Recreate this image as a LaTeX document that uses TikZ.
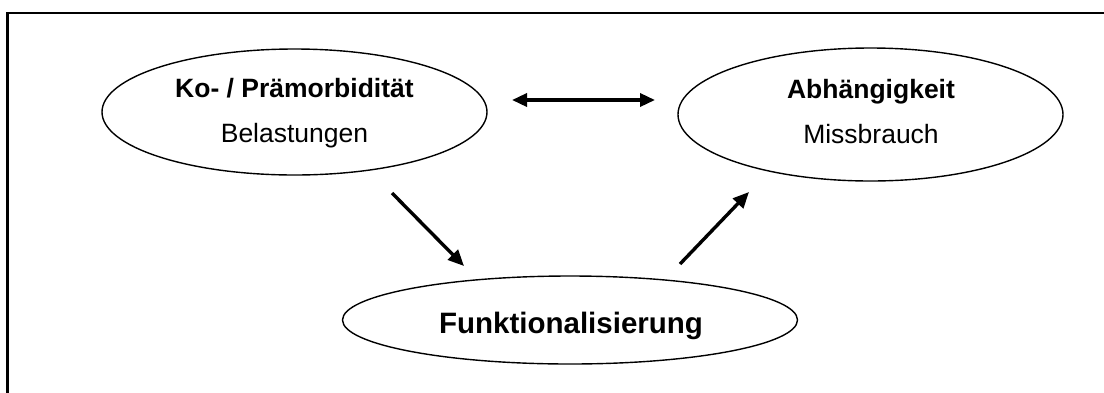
\documentclass[tikz,border=0pt]{standalone}
\usepackage{fontspec}
\setmainfont{Liberation Sans}
\usetikzlibrary{shapes.geometric,arrows.meta}
\begin{document}
\begin{tikzpicture}[x=1pt,y=-1pt,
  oval/.style={draw,ellipse,line width=1.4pt,inner sep=0pt},
  lbl/.style={anchor=base,inner sep=0pt,font=\fontsize{26.5}{30}\selectfont},
  blbl/.style={lbl,font=\fontsize{26.5}{30}\selectfont\bfseries},
  biglbl/.style={anchor=base,inner sep=0pt,font=\fontsize{29.5}{34}\selectfont\bfseries},
  arr/.style={line width=3.4pt,-{Triangle[length=16pt,width=14pt]}},
  darr/.style={line width=3.4pt,{Triangle[length=15pt,width=13pt]}-{Triangle[length=15pt,width=13pt]}}]
\useasboundingbox (0,0) rectangle (1104,392);
\draw[line width=2.4pt] (7.5,400) -- (7.5,13) -- (1110,13);
\node[oval,minimum width=385pt,minimum height=126pt] (ko) at (294.5,112) {};
\node[oval,minimum width=385pt,minimum height=133pt] (ab) at (870.5,114.5) {};
\node[oval,minimum width=455pt,minimum height=88pt] (fu) at (570,320) {};
\node[blbl] (kot) at (294.5,97) {Ko- / Prämorbidität};
\node[lbl] (bet) at (294.5,142) {Belastungen};
\node[blbl] (abt) at (871,98) {Abhängigkeit};
\node[lbl] (mit) at (871,143) {Missbrauch};
\node[biglbl] (fut) at (571,333) {Funktionalisierung};
\coordinate (d1) at (512,100);
\coordinate (d2) at (655,100);
\coordinate (a1s) at (392,193);
\coordinate (a1e) at (464,266);
\coordinate (a2s) at (680,264);
\coordinate (a2e) at (749,192);
\draw[darr] (d1) -- (d2);
\draw[arr] (a1s) -- (a1e);
\draw[arr] (a2s) -- (a2e);
\end{tikzpicture}
\end{document}
